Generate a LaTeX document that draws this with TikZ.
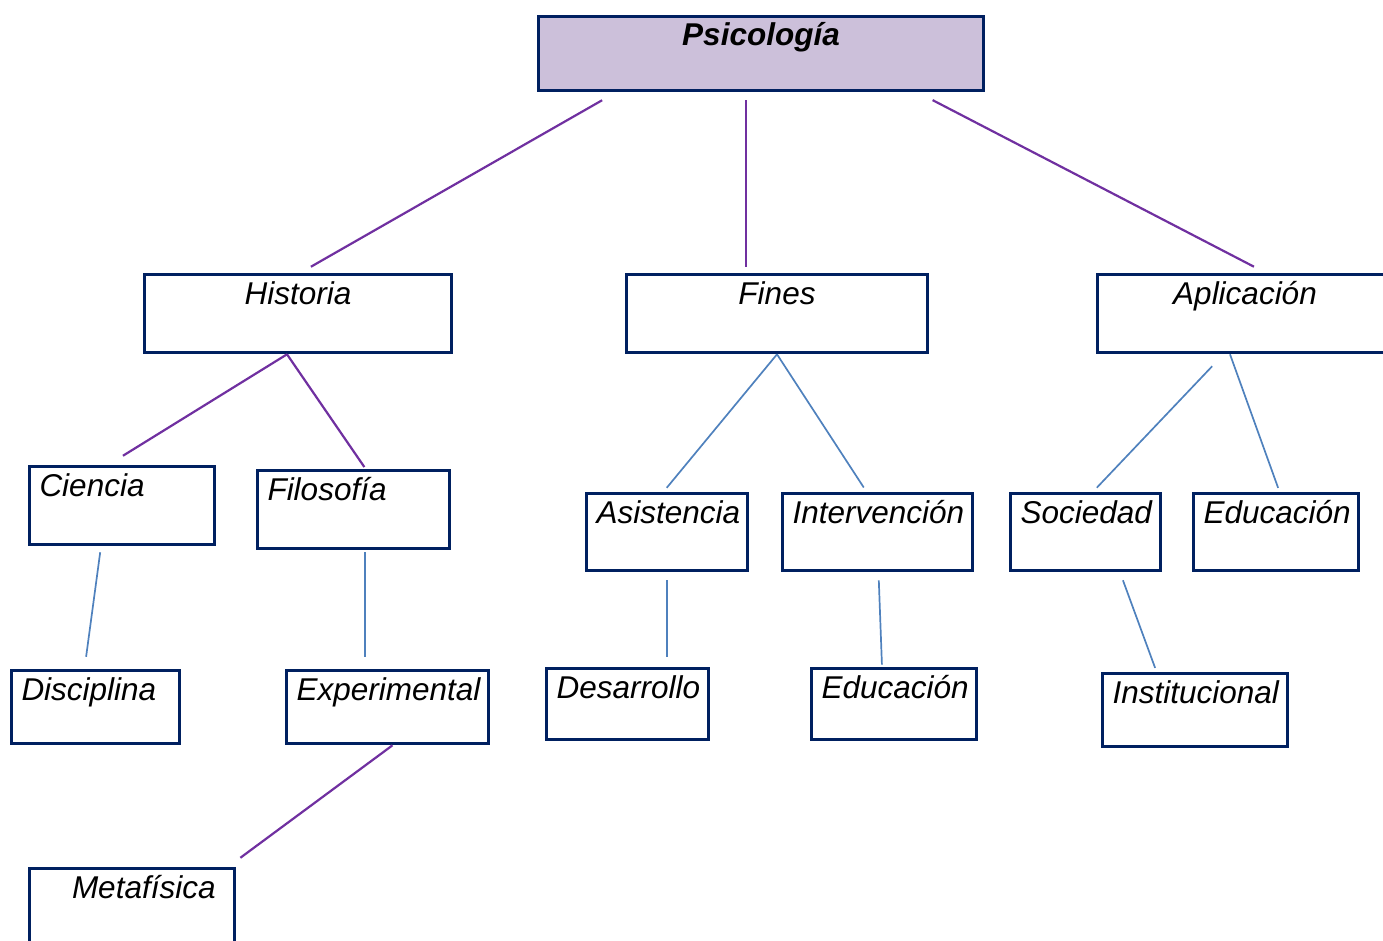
\documentclass[tikz,border=0pt]{standalone}
\usepackage{fontspec}
\setmainfont{Liberation Sans}
\definecolor{boxnavy}{HTML}{002060}
\definecolor{boxlila}{HTML}{CCC0DA}
\definecolor{linkpurple}{HTML}{7030A0}
\definecolor{linkblue}{HTML}{4F81BD}
\begin{document}
\begin{tikzpicture}[x=1pt,y=-1pt,
    box/.style={draw=boxnavy, line width=3.6pt, inner xsep=10pt, inner ysep=0pt,
      text height=29.5pt, text depth=48.5pt,
      font=\fontsize{31.5}{37}\selectfont\itshape},
    lowbox/.style={text depth=43.5pt},
    purplelink/.style={draw=linkpurple, line width=2.2pt},
    bluelink/.style={draw=linkblue, line width=1.7pt}]

      \useasboundingbox (0,0) rectangle (1383,941);
      \clip (0,0) rectangle (1383,941);

      % top levels
      \begin{scope}[every node/.style={box}]
        \node[fill=boxlila, minimum width=445pt, text depth=44.5pt,
          font=\fontsize{31.5}{37}\selectfont\bfseries\itshape] (psi) at (761,53.5) {Psicología};
        \node[minimum width=307pt] (hist) at (298,313.5)  {Historia};
        \node[minimum width=301pt] (fin)  at (777,313.5)  {Fines};
        \node[minimum width=295pt] (apl)  at (1245,313.5) {Aplicación};
      \end{scope}

      % lower levels
      \begin{scope}[every node/.style={box, align=left}]
        \node[text width=165pt] (cien) at (122,505.5)   {Ciencia};
        \node[text width=172pt] (filo) at (353.5,509.5) {Filosofía};
        \node[text width=141pt, text depth=47.5pt] (asis)  at (667,532)    {Asistencia};
        \node[text width=170pt, text depth=47.5pt] (inter) at (877.5,532)  {Intervención};
        \node[text width=130pt, text depth=47.5pt] (soc)   at (1085.5,532) {Sociedad};
        \node[text width=145pt, text depth=47.5pt] (edua)  at (1276,532)   {Educación};
        \node[lowbox, text width=148pt] (disc) at (95.5,707)  {Disciplina};
        \node[lowbox, text width=182pt] (exp)  at (387.5,707) {Experimental};
        \node[text width=142pt, text depth=41.5pt] (desa) at (627.5,704) {Desarrollo};
        \node[text width=145pt, text depth=41.5pt] (edub) at (894,704)   {Educación};
        \node[lowbox, text width=165pt] (inst) at (1195,710)  {Institucional};
        \node[text width=185pt] (meta) at (132,907.5) {\hspace*{32.5pt}Metafísica};
      \end{scope}

      \begin{scope}[every edge/.style={purplelink}]
        \path ([xshift=-145pt]psi.south) edge[shorten <=16pt, shorten >=12pt] ([xshift=2.5pt]hist.north);
        \path ([xshift=-15pt]psi.south)  edge[shorten <=8pt, shorten >=6pt] ([xshift=-31pt]fin.north);
        \path ([xshift=156.5pt]psi.south) edge[shorten <=17pt, shorten >=13pt] ([xshift=20.5pt]apl.north);
        \path ([xshift=-11pt]hist.south) edge[shorten >=17pt] ([xshift=-13.5pt]cien.north);
        \path ([xshift=-11pt]hist.south) edge[shorten >=2pt] ([xshift=12pt]filo.north);
        \path ([xshift=5pt]exp.south) edge[shorten >=15pt] ([xshift=-8pt]meta.north east);
      \end{scope}

      \begin{scope}[every edge/.style={bluelink}]
        \path (fin.south) edge[shorten >=5pt] ([xshift=-3.5pt]asis.north);
        \path (fin.south) edge[shorten >=5pt] ([xshift=-11pt]inter.north);
        \path ([xshift=-21.5pt]apl.south) edge[shorten <=16.5pt, shorten >=5.5pt] ([xshift=7.5pt]soc.north);
        \path ([xshift=-15pt]apl.south) edge[shorten >=4pt] ([xshift=3.5pt]edua.north);
        \path ([xshift=-21pt]cien.south) edge[shorten <=6pt, shorten >=12pt] ([xshift=-11pt]disc.north);
        \path ([xshift=11.5pt]filo.south) edge[shorten <=2pt, shorten >=12pt] ([xshift=-22.5pt]exp.north);
        \path (asis.south) edge[shorten <=8pt, shorten >=10pt] ([xshift=39.5pt]desa.north);
        \path ([xshift=1pt]inter.south) edge[shorten <=8pt, shorten >=2pt] ([xshift=-12pt]edub.north);
        \path ([xshift=34.5pt]soc.south) edge[shorten <=8.5pt, shorten >=4pt] ([xshift=-38.5pt]inst.north);
      \end{scope}

    \end{tikzpicture}
\end{document}
